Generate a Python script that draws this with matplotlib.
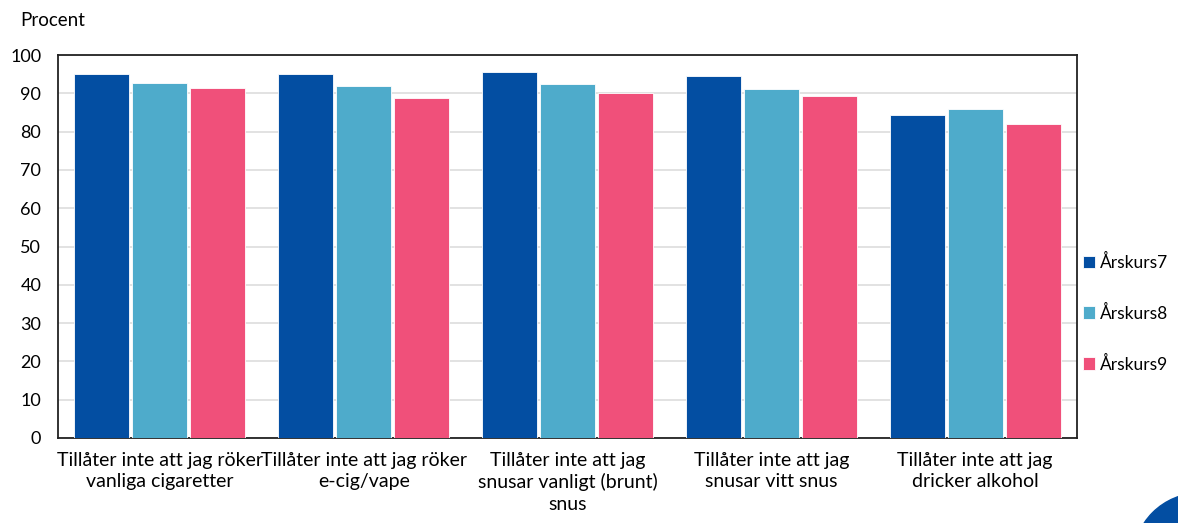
import matplotlib.pyplot as plt
import numpy as np
from matplotlib.patches import Circle

plt.rcParams['font.family'] = ['Lato', 'DejaVu Sans']

categories = [
    "Tillåter inte att jag röker\nvanliga cigaretter",
    "Tillåter inte att jag röker\ne-cig/vape",
    "Tillåter inte att jag\nsnusar vanligt (brunt)\nsnus",
    "Tillåter inte att jag\nsnusar vitt snus",
    "Tillåter inte att jag\ndricker alkohol",
]
series_names = ["Årskurs7", "Årskurs8", "Årskurs9"]
arskurs7 = [95.1, 95.1, 95.6, 94.5, 84.3]
arskurs8 = [92.8, 92.0, 92.4, 91.1, 85.8]
arskurs9 = [91.3, 88.8, 90.2, 89.4, 82.0]
colors = ["#034ea2", "#4eabcb", "#f0507a"]

fig = plt.figure(figsize=(11.78, 5.23), dpi=100)
ax = fig.add_axes([58 / 1178, 1 - 438 / 523, 1019 / 1178, 383 / 523])

x = np.arange(len(categories))
w = 0.27
for i, (vals, name) in enumerate(zip([arskurs7, arskurs8, arskurs9], series_names)):
    ax.bar(x + (i - 1) * 0.285, vals, width=w, color=colors[i], label=name,
           edgecolor="white", linewidth=0.6, zorder=3)

ax.set_xlim(-0.5, len(categories) - 0.5)
ax.set_ylim(0, 100)
ax.set_yticks(range(0, 101, 10))
ax.yaxis.grid(True, color="#dddddd", linewidth=1.2, zorder=0)
ax.set_xticks(x)
ax.set_xticklabels(categories, fontsize=14, linespacing=1.3)
ax.tick_params(axis="y", labelsize=13, length=0, pad=12)
ax.tick_params(axis="x", length=0, pad=10)
for s in ax.spines.values():
    s.set_color("#222222")
    s.set_linewidth(1.3)

fig.text(20 / 1178, 1 - 20 / 523, "Procent", fontsize=13.5, va="center", ha="left")

ax.legend(loc="center left", bbox_to_anchor=(1.0, 0.326), frameon=False,
          fontsize=12.5, handlelength=0.7, handleheight=0.7, handletextpad=0.25,
          labelspacing=1.95, borderaxespad=0.15, borderpad=0.2)

circ = Circle((12.0, -0.37), 0.67, transform=fig.dpi_scale_trans,
              color="#034ea2", clip_on=False)
fig.patches.append(circ)

fig.savefig("out.png", dpi=100)
